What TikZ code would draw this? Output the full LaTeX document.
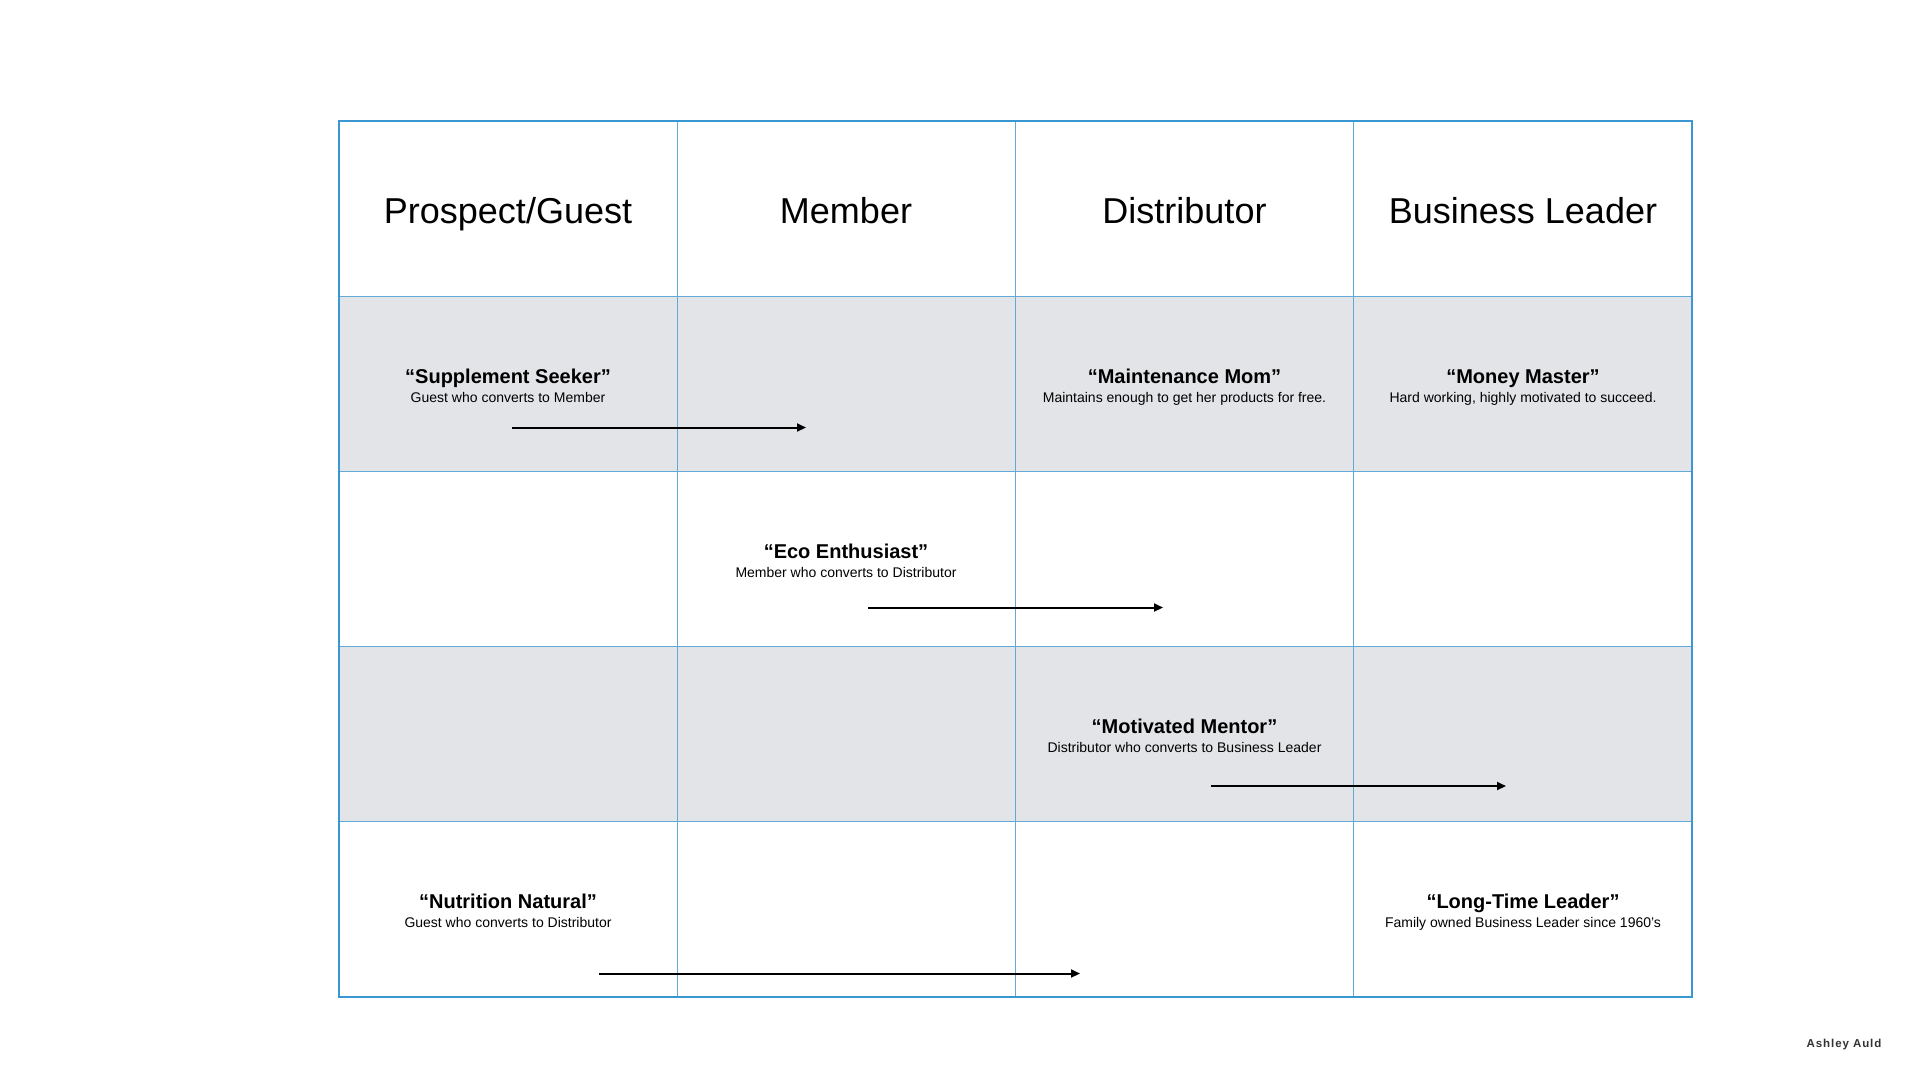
\documentclass[tikz,border=0pt]{standalone}
\usepackage{fontspec}
\setmainfont{Liberation Sans}
\newfontfamily\spacedfont[LetterSpace=8]{Liberation Sans}
\usetikzlibrary{arrows.meta}
\definecolor{gridblue}{HTML}{62A9D6}
\definecolor{outerblue}{HTML}{3A97D2}
\definecolor{rowgray}{HTML}{E3E4E8}
\begin{document}
\begin{tikzpicture}[x=1pt,y=-1pt,
 header/.style={font=\fontsize{36}{40}\selectfont, anchor=base, inner sep=0pt},
 title/.style={font=\bfseries\fontsize{20}{24}\selectfont, anchor=base, inner sep=0pt},
 sub/.style={font=\fontsize{14}{16}\selectfont, anchor=base, inner sep=0pt},
 flow/.style={line width=2pt, -{Triangle[length=9pt,width=8pt]}},
 gridline/.style={gridblue, line width=1pt},
 ]
\useasboundingbox[fill=white] (0,0) rectangle (1920,1080);
% shaded rows
\fill[rowgray] (339,296.2) rectangle (1692,471.4);
\fill[rowgray] (339,646.6) rectangle (1692,821.8);
% inner grid
\foreach \x in {677.25,1015.5,1353.75} \draw[gridline] (\x,121) -- (\x,997);
\foreach \y in {296.2,471.4,646.6,821.8} \draw[gridline] (339,\y) -- (1692,\y);
% outer border
\draw[outerblue, line width=2pt] (339,121) rectangle (1692,997);

% headers
\node[header] (h1) at (508,223) {Prospect/Guest};
\node[header] (h2) at (846,223) {Member};
\node[header] (h3) at (1184.5,223) {Distributor};
\node[header] (h4) at (1523,223) {Business Leader};

% row 1
\node[title] (t1) at (508,383) {“Supplement Seeker”};
\node[sub] (s1) at (508,402.5) {Guest who converts to Member};
\node[title] (t2) at (1184.5,383) {“Maintenance Mom”};
\node[sub] (s2) at (1184.5,402.5) {Maintains enough to get her products for free.};
\node[title] (t3) at (1523,383) {“Money Master”};
\node[sub] (s3) at (1523,402.5) {Hard working, highly motivated to succeed.};

% row 2
\node[title] (t4) at (846,558) {“Eco Enthusiast”};
\node[sub] (s4) at (846,577.5) {Member who converts to Distributor};

% row 3
\node[title] (t5) at (1184.5,733) {“Motivated Mentor”};
\node[sub] (s5) at (1184.5,752.5) {Distributor who converts to Business Leader};

% row 4
\node[title] (t6) at (508,908) {“Nutrition Natural”};
\node[sub] (s6) at (508,927.5) {Guest who converts to Distributor};
\node[title] (t7) at (1523,908) {“Long-Time Leader”};
\node[sub] (s7) at (1523,927.5) {Family owned Business Leader since 1960’s};

% arrows
\coordinate (a1s) at (512,427.5);
\coordinate (a1e) at (806,427.5);
\coordinate (a2s) at (868,607.5);
\coordinate (a2e) at (1163,607.5);
\coordinate (a3s) at (1211,786);
\coordinate (a3e) at (1506,786);
\coordinate (a4s) at (599,973.5);
\coordinate (a4e) at (1080,973.5);
\draw[flow] (a1s) -- (a1e);
\draw[flow] (a2s) -- (a2e);
\draw[flow] (a3s) -- (a3e);
\draw[flow] (a4s) -- (a4e);

% signature
\node[font=\spacedfont\bfseries\fontsize{11.5}{13}\selectfont, text=black!80, anchor=base, inner sep=0pt] (sig) at (1844,1047) {Ashley Auld};
\end{tikzpicture}
\end{document}
